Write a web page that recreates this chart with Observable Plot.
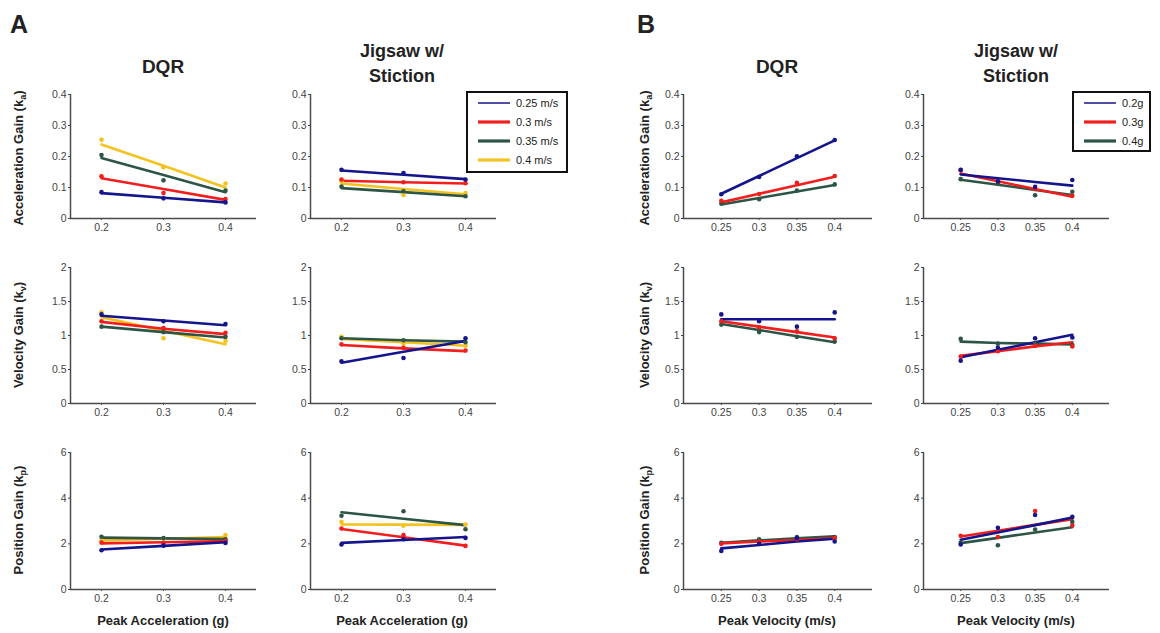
<!DOCTYPE html>
<html><head><meta charset="utf-8">
<script src="https://cdn.jsdelivr.net/npm/d3@7"></script>
<script src="https://cdn.jsdelivr.net/npm/@observablehq/plot@0.6"></script>
<style>
body{margin:0;background:#fff;}
#fig{position:relative;width:1160px;height:633px;overflow:hidden;font-family:"Liberation Sans",Arial,sans-serif;}
.t{position:absolute;white-space:nowrap;font-weight:bold;color:#222;transform:translate(-50%,-50%);line-height:1;}
.p{position:absolute;}
sub{font-size:70%;vertical-align:-0.25em;}
</style></head><body><div id="fig"></div>
<script>
// ---- categories / ticks ----
const accelLevels = [0.2, 0.3, 0.4];          // Peak acceleration (g)
const velLevels = [0.25, 0.3, 0.35, 0.4];     // Peak velocity (m/s)
const seriesA = ["0.25 m/s", "0.3 m/s", "0.35 m/s", "0.4 m/s"];
const seriesB = ["0.2g", "0.3g", "0.4g"];
const colorsA = ["#14148c", "#f21d1d", "#2d5545", "#f4c21f"];
const colorsB = ["#14148c", "#f21d1d", "#2d5545"];
const kaTicks = [0, 0.1, 0.2, 0.3, 0.4];
const kvTicks = [0, 0.5, 1, 1.5, 2];
const kpTicks = [0, 2, 4, 6];

// ---- A: DQR ----
const aDqrKaPts = [[0.085,0.065,0.052],[0.136,0.082,0.063],[0.205,0.123,0.09],[0.254,0.165,0.113]];
const aDqrKaFit = [[0.082,0.067,0.052],[0.13,0.095,0.06],[0.195,0.14,0.085],[0.239,0.17,0.10]];
const aDqrKvPts = [[1.31,1.21,1.17],[1.21,1.11,1.04],[1.13,1.05,0.98],[1.34,0.96,0.92]];
const aDqrKvFit = [[1.29,1.22,1.15],[1.2,1.1,1.02],[1.13,1.05,0.97],[1.27,1.07,0.87]];
const aDqrKpPts = [[1.72,1.92,2.04],[2.06,2.01,2.12],[2.31,2.25,2.2],[2.15,2.22,2.38]];
const aDqrKpFit = [[1.75,1.91,2.07],[2.02,2.07,2.12],[2.27,2.24,2.21],[2.15,2.22,2.3]];
// ---- A: Jigsaw w/ Stiction ----
const aJigKaPts = [[0.157,0.147,0.126],[0.126,0.117,0.114],[0.103,0.088,0.072],[0.12,0.076,0.082]];
const aJigKaFit = [[0.155,0.141,0.127],[0.122,0.117,0.113],[0.098,0.085,0.072],[0.113,0.095,0.078]];
const aJigKvPts = [[0.62,0.67,0.96],[0.87,0.82,0.78],[0.96,0.93,0.9],[0.98,0.88,0.85]];
const aJigKvFit = [[0.6,0.76,0.92],[0.86,0.81,0.77],[0.96,0.93,0.91],[0.95,0.9,0.85]];
const aJigKpPts = [[1.97,2.2,2.26],[2.67,2.38,1.91],[3.23,3.43,2.64],[2.96,2.79,2.85]];
const aJigKpFit = [[2.04,2.17,2.3],[2.65,2.29,1.92],[3.38,3.1,2.82],[2.85,2.84,2.83]];
// ---- B: DQR ----
const bDqrKaPts = [[0.078,0.134,0.201,0.253],[0.057,0.079,0.115,0.137],[0.048,0.062,0.09,0.11]];
const bDqrKaFit = [[0.08,0.137,0.195,0.252],[0.052,0.08,0.107,0.135],[0.045,0.066,0.087,0.108]];
const bDqrKvPts = [[1.31,1.21,1.13,1.34],[1.21,1.12,1.06,0.96],[1.16,1.05,0.98,0.91]];
const bDqrKvFit = [[1.24,1.24,1.24,1.24],[1.21,1.13,1.05,0.97],[1.17,1.08,0.99,0.9]];
const bDqrKpPts = [[1.69,2.0,2.25,2.1],[2.0,2.1,2.2,2.25],[2.05,2.2,2.3,2.3]];
const bDqrKpFit = [[1.8,1.95,2.1,2.22],[2.02,2.1,2.17,2.25],[2.05,2.15,2.24,2.33]];
// ---- B: Jigsaw w/ Stiction ----
const bJigKaPts = [[0.157,0.12,0.102,0.124],[0.156,0.12,0.095,0.073],[0.127,0.113,0.075,0.086]];
const bJigKaFit = [[0.142,0.13,0.118,0.106],[0.145,0.12,0.095,0.07],[0.125,0.109,0.092,0.076]];
const bJigKvPts = [[0.63,0.82,0.96,0.97],[0.69,0.77,0.85,0.84],[0.95,0.88,0.88,0.86]];
const bJigKvFit = [[0.68,0.79,0.9,1.01],[0.7,0.77,0.84,0.9],[0.91,0.89,0.88,0.87]];
const bJigKpPts = [[1.97,2.7,3.26,3.18],[2.35,2.3,3.44,2.8],[2.05,1.94,2.63,2.96]];
const bJigKpFit = [[2.18,2.5,2.82,3.15],[2.32,2.57,2.83,3.08],[2.03,2.26,2.5,2.73]];

const fig = document.getElementById("fig");
const FONT = "Liberation Sans, Arial, sans-serif";

function panel(left, top, w, h, xdom, xs, ydom, yticks, names, colors, pts, fit) {
  const ml = 34, mr = 6, mt = 6, mb = 22;
  const ptData = [], fitData = [];
  names.forEach((n, i) => xs.forEach((x, j) => {
    ptData.push({s: n, x, y: pts[i][j]});
    fitData.push({s: n, x, y: fit[i][j]});
  }));
  const order = names.slice().reverse();
  const chart = Plot.plot({
    width: w + ml + mr, height: h + mt + mb,
    marginLeft: ml, marginRight: mr, marginTop: mt, marginBottom: mb,
    style: {background: "transparent", fontFamily: FONT, overflow: "visible"},
    x: {domain: xdom}, y: {domain: ydom},
    color: {domain: names, range: colors},
    marks: [
      Plot.axisX({ticks: xs, tickSize: 2, tickPadding: 3, fontSize: 10.5, tickFormat: d => String(d), label: null, color: "#444"}),
      Plot.axisY({ticks: yticks, tickSize: 2, tickPadding: 2, fontSize: 10.5, tickFormat: d => String(d), label: null, color: "#444"}),
      Plot.ruleX([xdom[0]], {stroke: "#4a4a4a", strokeWidth: 1.5}),
      Plot.ruleY([ydom[0]], {stroke: "#4a4a4a", strokeWidth: 1.5}),
      ...order.map(n => Plot.line(fitData.filter(d => d.s === n), {x: "x", y: "y", stroke: "s", strokeWidth: 2.6})),
      ...order.map(n => Plot.dot(ptData.filter(d => d.s === n), {x: "x", y: "y", fill: "s", r: 2.3}))
    ]
  });
  const div = document.createElement("div");
  div.className = "p";
  div.style.left = (left - ml) + "px";
  div.style.top = (top - mt) + "px";
  div.appendChild(chart);
  fig.appendChild(div);
}

function text(html, x, y, size, rotate) {
  const d = document.createElement("div");
  d.className = "t";
  d.innerHTML = html;
  d.style.left = x + "px"; d.style.top = y + "px";
  d.style.fontSize = size + "px";
  if (rotate) d.style.transform = "translate(-50%,-50%) rotate(-90deg)";
  fig.appendChild(d);
}

function legend(left, top, w, h, names, colors) {
  const svg = d3.create("svg").attr("width", w + 2).attr("height", h + 2)
    .style("position", "absolute").style("left", (left - 1) + "px").style("top", (top - 1) + "px");
  svg.append("rect").attr("x", 1).attr("y", 1).attr("width", w).attr("height", h)
    .attr("fill", "#fff").attr("stroke", "#111").attr("stroke-width", 2);
  names.forEach((n, i) => {
    const y = 12 + i * 19;
    svg.append("line").attr("x1", 12).attr("x2", 44).attr("y1", y).attr("y2", y)
      .attr("stroke", colors[i]).attr("stroke-width", i === 0 ? 1.5 : 3.2);
    svg.append("text").attr("x", 50).attr("y", y).attr("dy", "0.35em")
      .attr("font-size", 11).attr("font-family", FONT).attr("fill", "#222").text(n);
  });
  fig.appendChild(svg.node());
}

const cols = [[70, 186], [310, 186], [683, 189], [923, 186]];
const rows = [[94, 124], [267, 136], [452, 137]];
const xA = [0.15, 0.45], xB = [0.2, 0.45];
const yRow = [[0, 0.4], [0, 2], [0, 6]];
const tRow = [kaTicks, kvTicks, kpTicks];
const panels = [
  [[aDqrKaPts, aDqrKaFit], [aDqrKvPts, aDqrKvFit], [aDqrKpPts, aDqrKpFit]],
  [[aJigKaPts, aJigKaFit], [aJigKvPts, aJigKvFit], [aJigKpPts, aJigKpFit]],
  [[bDqrKaPts, bDqrKaFit], [bDqrKvPts, bDqrKvFit], [bDqrKpPts, bDqrKpFit]],
  [[bJigKaPts, bJigKaFit], [bJigKvPts, bJigKvFit], [bJigKpPts, bJigKpFit]]
];
cols.forEach(([cx, cw], c) => {
  const isA = c < 2;
  rows.forEach(([ry, rh], r) => {
    const [p, f] = panels[c][r];
    panel(cx, ry, cw, rh, isA ? xA : xB, isA ? accelLevels : velLevels, yRow[r], tRow[r],
      isA ? seriesA : seriesB, isA ? colorsA : colorsB, p, f);
  });
});

text("A", 19, 24, 25);
text("B", 646, 24, 25);
text("DQR", 163, 66, 19);
text("DQR", 777, 66, 19);
text("Jigsaw w/", 402, 51, 18);
text("Stiction", 402, 76, 18);
text("Jigsaw w/", 1016, 51, 18);
text("Stiction", 1016, 76, 18);
const yLabels = ["Acceleration Gain (k<sub>a</sub>)", "Velocity Gain (k<sub>v</sub>)", "Position Gain (k<sub>p</sub>)"];
const yCenters = [158, 335, 520];
yLabels.forEach((l, i) => { text(l, 20, yCenters[i], 13, true); text(l, 646, yCenters[i], 13, true); });
text("Peak Acceleration (g)", 163, 620, 13);
text("Peak Acceleration (g)", 402, 620, 13);
text("Peak Velocity (m/s)", 777, 620, 13);
text("Peak Velocity (m/s)", 1016, 620, 13);

legend(467, 92, 100, 80, seriesA, colorsA);
legend(1073, 92, 77, 59, seriesB, colorsB);
</script></body></html>
